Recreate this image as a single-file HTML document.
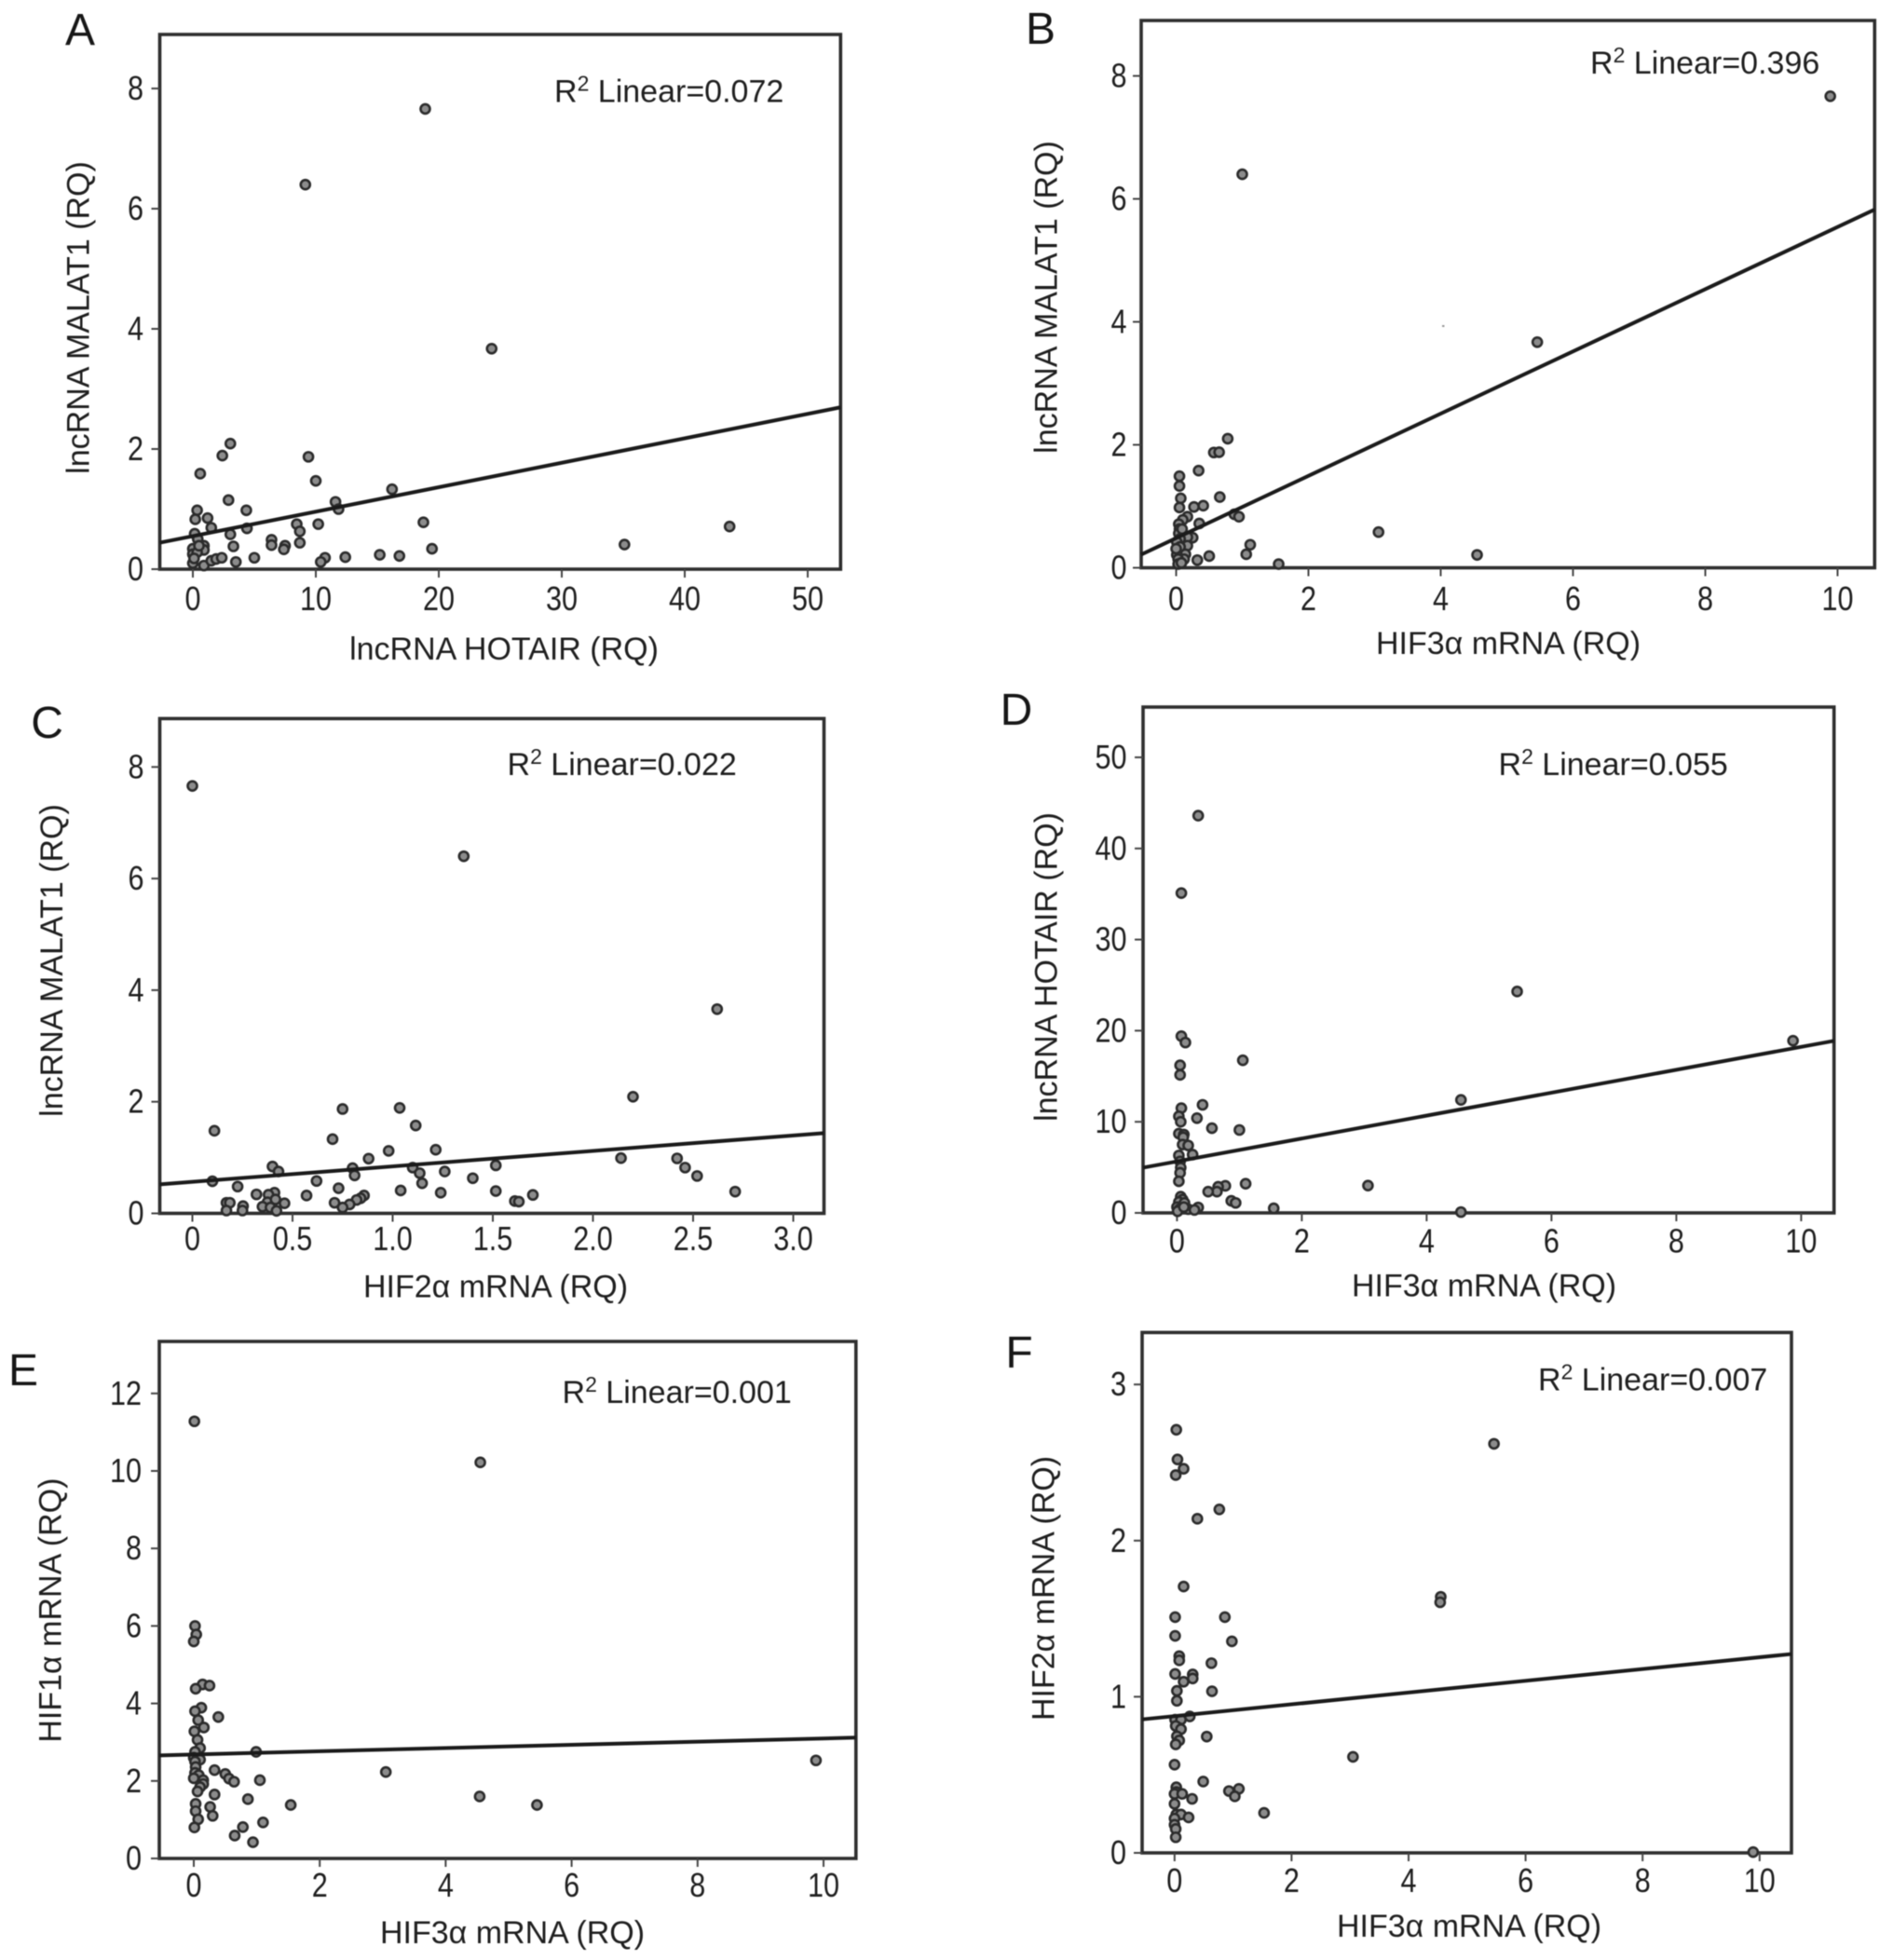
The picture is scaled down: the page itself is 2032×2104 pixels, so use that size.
<!DOCTYPE html>
<html lang="en">
<head>
<meta charset="utf-8">
<title>Correlation scatter plots A-F</title>
<style>
html,body{margin:0;padding:0;background:#fff;}
#figure{display:block;width:2032px;height:2104px;filter:blur(0.55px);}
text{font-family:"Liberation Sans",sans-serif;font-size:34px;fill:#1e1e1e;}
.letter{font-size:48px;fill:#161616;}
.frame{fill:none;stroke:#2e2e2e;stroke-width:3.6;}
</style>
</head>
<body>
<svg id="figure" xmlns="http://www.w3.org/2000/svg" width="2032" height="2104" viewBox="0 0 2032 2104">
  <rect x="0" y="0" width="2032" height="2104" fill="#fff"/>

  <g id="panel-a">
    <text class="letter" x="86" y="48" text-anchor="middle">A</text>
    <rect class="frame" x="171.5" y="37" width="730.8" height="574"/>
    <text x="595" y="109.5">R<tspan dy="-12" font-size="23">2</tspan><tspan dy="12"> Linear=0.072</tspan></text>
    <text x="541" y="708" text-anchor="middle">lncRNA HOTAIR (RQ)</text>
    <text transform="translate(95.5 341) rotate(-90)" text-anchor="middle">lncRNA MALAT1 (RQ)</text>
  </g>

  <g id="panel-b">
    <text class="letter" x="1117" y="47" text-anchor="middle">B</text>
    <rect class="frame" x="1225" y="22" width="787.3" height="587.5"/>
    <text x="1707" y="79">R<tspan dy="-12" font-size="23">2</tspan><tspan dy="12"> Linear=0.396</tspan></text>
    <text x="1619" y="702" text-anchor="middle">HIF3α mRNA (RQ)</text>
    <text transform="translate(1134.5 319) rotate(-90)" text-anchor="middle">lncRNA MALAT1 (RQ)</text>
    <rect x="1548" y="349" width="2.5" height="2" fill="#999"/>
  </g>

  <g id="panel-c">
    <text class="letter" x="50.6" y="792" text-anchor="middle">C</text>
    <rect class="frame" x="171.5" y="771.4" width="713" height="531.1"/>
    <text x="544.5" y="832">R<tspan dy="-12" font-size="23">2</tspan><tspan dy="12"> Linear=0.022</tspan></text>
    <text x="532" y="1392.5" text-anchor="middle">HIF2α mRNA (RQ)</text>
    <text transform="translate(67 1031) rotate(-90)" text-anchor="middle">lncRNA MALAT1 (RQ)</text>
  </g>

  <g id="panel-d">
    <text class="letter" x="1091" y="778" text-anchor="middle">D</text>
    <rect class="frame" x="1227" y="759" width="741.7" height="543"/>
    <text x="1608.5" y="832">R<tspan dy="-12" font-size="23">2</tspan><tspan dy="12"> Linear=0.055</tspan></text>
    <text x="1593" y="1391.5" text-anchor="middle">HIF3α mRNA (RQ)</text>
    <text transform="translate(1134.5 1038) rotate(-90)" text-anchor="middle">lncRNA HOTAIR (RQ)</text>
  </g>

  <g id="panel-e">
    <text class="letter" x="25" y="1487" text-anchor="middle">E</text>
    <rect class="frame" x="171" y="1440" width="747.8" height="555"/>
    <text x="603.5" y="1506">R<tspan dy="-12" font-size="23">2</tspan><tspan dy="12"> Linear=0.001</tspan></text>
    <text x="550" y="2086" text-anchor="middle">HIF3α mRNA (RQ)</text>
    <text transform="translate(65.5 1728.6) rotate(-90)" text-anchor="middle">HIF1α mRNA (RQ)</text>
  </g>

  <g id="panel-f">
    <text class="letter" x="1094" y="1468" text-anchor="middle">F</text>
    <rect class="frame" x="1226" y="1430.4" width="697" height="558.6"/>
    <text x="1651" y="1492.5">R<tspan dy="-12" font-size="23">2</tspan><tspan dy="12"> Linear=0.007</tspan></text>
    <text x="1577" y="2079" text-anchor="middle">HIF3α mRNA (RQ)</text>
    <text transform="translate(1131.5 1705) rotate(-90)" text-anchor="middle">HIF2α mRNA (RQ)</text>
  </g>
</svg>

<script>
// Panel A: lncRNA HOTAIR vs lncRNA MALAT1
const aXValues = [18.9,9.15,24.3,43.65,35.1,3.05,2.4,9.4,0.6,10.0,16.2,2.9,11.6,11.85,4.35,0.35,1.2,0.2,18.75,10.2,8.45,8.7,1.5,4.4,3.05,0.15,6.4,8.7,6.4,7.5,7.4,3.3,19.45,0.9,0.9,0.4,0.0,0.0,0.0,0.35,0.9,1.5,1.9,2.35,3.5,5.0,10.75,10.4,12.4,15.2,16.8,0.1,0.5];
const aYValues = [7.66,6.4,3.67,0.71,0.41,2.09,1.89,1.87,1.59,1.47,1.33,1.15,1.12,1.0,0.98,0.98,0.85,0.83,0.78,0.75,0.75,0.63,0.69,0.68,0.58,0.59,0.49,0.44,0.40,0.39,0.33,0.38,0.34,0.39,0.32,0.5,0.34,0.25,0.1,0.28,0.06,0.14,0.17,0.19,0.12,0.19,0.19,0.12,0.2,0.24,0.22,0.18,0.39];
const aFit = [0.55,0.0407];
const aXTicks = [0,10,20,30,40,50];
const aXTickLabels = ['0','10','20','30','40','50'];
const aYTicks = [0,2,4,6,8];
const aYTickLabels = ['0','2','4','6','8'];

// Panel B: HIF3a mRNA vs lncRNA MALAT1
const bXValues = [9.89,1.0,5.46,0.78,0.57,0.65,0.34,0.05,0.05,0.66,0.07,0.05,0.27,0.41,0.17,0.88,0.95,0.1,0.04,0.35,0.05,0.04,3.06,0.25,0.17,0.06,0.01,0.17,1.12,0.06,1.06,4.55,0.5,0.14,0.01,0.12,0.32,0.03,0.03,0.08,1.55,0.09,0];
const bYValues = [7.67,6.40,3.67,2.10,1.875,1.88,1.58,1.49,1.33,1.15,1.13,0.98,0.99,1.01,0.83,0.87,0.83,0.78,0.71,0.72,0.63,0.56,0.58,0.49,0.5,0.47,0.42,0.36,0.375,0.34,0.22,0.21,0.19,0.22,0.21,0.14,0.125,0.14,0.06,0.08,0.06,0.63,0.31];
const bFit = [0.483,0.506];
const bXTicks = [0,2,4,6,8,10];
const bXTickLabels = ['0','2','4','6','8','10'];
const bYTicks = [0,2,4,6,8];
const bYTickLabels = ['0','2','4','6','8'];

// Panel C: HIF2a mRNA vs lncRNA MALAT1
const cXValues = [0,1.355,2.62,2.2,1.035,0.75,0.11,1.115,0.70,0.98,1.215,2.14,2.42,2.46,2.52,2.71,0.88,1.515,0.40,0.43,0.80,1.10,1.135,0.81,1.26,1.40,0.10,0.62,1.147,0.226,0.73,1.04,1.24,1.515,0.32,0.41,0.38,0.57,1.70,0.857,0.84,0.82,1.61,1.63,0.375,0.415,0.46,0.71,0.785,0.17,0.187,0.253,0.35,0.75,0.39,0.17,0.25,0.42];
const cYValues = [7.66,6.40,3.66,2.09,1.89,1.87,1.48,1.575,1.33,1.12,1.14,0.99,0.985,0.82,0.67,0.39,0.98,0.86,0.84,0.75,0.81,0.82,0.72,0.68,0.75,0.63,0.575,0.58,0.54,0.48,0.45,0.41,0.37,0.40,0.34,0.37,0.335,0.32,0.33,0.32,0.27,0.24,0.22,0.21,0.2,0.25,0.18,0.19,0.16,0.19,0.19,0.13,0.12,0.105,0.105,0.05,0.05,0.045];
const cFit = [0.565,0.277];
const cXTicks = [0,0.5,1,1.5,2,2.5,3];
const cXTickLabels = ['0','0.5','1.0','1.5','2.0','2.5','3.0'];
const cYTicks = [0,2,4,6,8];
const cYTickLabels = ['0','2','4','6','8'];

// Panel D: HIF3a mRNA vs lncRNA HOTAIR
const dXValues = [0.34,0.07,5.45,9.87,0.07,0.135,1.055,0.05,0.05,4.55,0.41,0.07,0.03,0.32,0.06,0.56,1.0,0.03,0.11,0.1,0.09,0.18,0.25,0.03,0.05,0.06,0.05,0.03,1.1,3.06,0.775,0.66,0.64,0.5,0.06,0.09,0.87,0.94,0.03,0.12,0,1.55,0.34,0.18,0.04,0.28,4.55,0.01,0.11];
const dYValues = [43.6,35.1,24.3,18.9,19.4,18.7,16.75,16.2,15.15,12.4,11.86,11.5,10.6,10.4,10,9.3,9.1,8.7,8.6,8.3,7.5,7.4,6.4,6.3,5.65,4.97,4.4,3.47,3.2,3.0,2.97,2.87,2.33,2.33,1.78,1.46,1.32,1.1,1.19,1.1,0.64,0.5,0.6,0.41,0.4,0.32,0.09,0.18,0.64];
const dFit = [5.65,1.257];
const dXTicks = [0,2,4,6,8,10];
const dXTickLabels = ['0','2','4','6','8','10'];
const dYTicks = [0,10,20,30,40,50];
const dYTickLabels = ['0','10','20','30','40','50'];

// Panel E: HIF3a mRNA vs HIF1a mRNA
const eXValues = [0.01,4.55,0.02,0.04,0,0.14,0.25,0.03,0.12,0.02,0.39,0.07,0.16,0.01,0.06,0.1,0.99,0.02,0,0.1,9.88,0.02,0.03,0.33,0.02,3.05,0.5,0.08,0.56,0,1.05,0.64,0.15,0.15,0.1,0.06,0.33,4.54,0.86,1.54,5.45,0.03,0.26,0.03,0.3,0.07,1.1,0.01,0.78,0.65,0.94];
const eYValues = [11.28,10.22,6.0,5.78,5.6,4.49,4.46,4.38,3.89,3.8,3.65,3.57,3.38,3.28,3.06,2.85,2.75,2.75,2.6,2.55,2.53,2.5,2.36,2.28,2.21,2.23,2.18,2.15,2.06,2.07,2.02,1.98,2.02,1.92,1.84,1.73,1.65,1.6,1.53,1.38,1.38,1.41,1.33,1.22,1.1,1.01,0.93,0.8,0.81,0.59,0.42];
const eFit = [2.683,0.0414];
const eXTicks = [0,2,4,6,8,10];
const eXTickLabels = ['0','2','4','6','8','10'];
const eYTicks = [0,2,4,6,8,10,12];
const eYTickLabels = ['0','2','4','6','8','10','12'];

// Panel F: HIF3a mRNA vs HIF2a mRNA
const fXValues = [0.03,0.05,0.155,0.02,5.46,0.765,0.39,0.155,4.55,4.54,0.01,0.86,0.01,0.98,0.08,0.08,0.63,0.01,0.31,0.31,0.155,0.04,0.64,0.04,0.26,0.01,0.11,0.08,0.02,0.11,0.55,0.04,0.08,0.02,3.05,0,0.49,0.03,1.1,0.93,1.03,0.03,0,0.13,0.3,0,1.53,0.03,0.11,0.24,0,0,0.02,0.02,9.89];
const fYValues = [2.71,2.52,2.46,2.42,2.62,2.20,2.14,1.706,1.64,1.605,1.51,1.51,1.39,1.355,1.26,1.233,1.215,1.146,1.143,1.117,1.096,1.038,1.035,0.974,0.874,0.853,0.853,0.80,0.813,0.792,0.745,0.747,0.72,0.695,0.615,0.565,0.457,0.42,0.41,0.396,0.362,0.39,0.378,0.378,0.346,0.314,0.256,0.246,0.246,0.227,0.22,0.18,0.153,0.10,0.005];
const fFit = [0.876,0.0377];
const fXTicks = [0,2,4,6,8,10];
const fXTickLabels = ['0','2','4','6','8','10'];
const fYTicks = [0,1,2,3];
const fYTickLabels = ['0','1','2','3'];

const SVG_NS = 'http://www.w3.org/2000/svg';

function makeXScale(layout) {
  return function (v) { return layout.x0 + v * layout.xUnit; };
}
function makeYScale(layout) {
  return function (v) { return layout.bottom - v * layout.yUnit; };
}
function svgShape(tag, attrs) {
  const node = document.createElementNS(SVG_NS, tag);
  Object.keys(attrs).forEach(function (k) { node.setAttribute(k, attrs[k]); });
  return node;
}

function drawPanel(layout, xs, ys, fit, xTicks, xLabels, yTicks, yLabels) {
  const group = document.getElementById(layout.id);
  const sx = makeXScale(layout);
  const sy = makeYScale(layout);

  xTicks.forEach(function (t, i) {
    const tick = svgShape('line', {x1: sx(t), x2: sx(t), y1: layout.bottom, y2: layout.bottom + 9, stroke: '#444', 'stroke-width': 2});
    
    
    group.appendChild(tick);
    const label = svgShape('text', {transform: 'translate(' + sx(t) + ' ' + layout.xLabelY + ') scale(0.9 1.05)', 'text-anchor': 'middle'});
    
    
    label.textContent = xLabels[i];
    group.appendChild(label);
  });

  yTicks.forEach(function (t, i) {
    const tick = svgShape('line', {x1: layout.left - 9, x2: layout.left, y1: sy(t), y2: sy(t), stroke: '#444', 'stroke-width': 2});
    
    
    group.appendChild(tick);
    const label = svgShape('text', {transform: 'translate(' + layout.yLabelX + ' ' + (sy(t) + 12) + ') scale(0.9 1.05)', 'text-anchor': 'end'});
    
    
    label.textContent = yLabels[i];
    group.appendChild(label);
  });

  xs.forEach(function (x, i) {
    const point = svgShape('circle', {cx: sx(x), cy: sy(ys[i]), r: 5, fill: '#8c8c8c', stroke: '#2b2b2b', 'stroke-width': 2.6});
    
    
    group.appendChild(point);
  });

  const domainLeft = (layout.left - layout.x0) / layout.xUnit;
  const domainRight = (layout.right - layout.x0) / layout.xUnit;
  const trend = svgShape('line', {
    x1: layout.left, y1: sy(fit[0] + fit[1] * domainLeft),
    x2: layout.right, y2: sy(fit[0] + fit[1] * domainRight),
    stroke: '#1a1a1a', 'stroke-width': 4
  });
  
  
  group.appendChild(trend);
}

drawPanel({id: 'panel-a', left: 171.5, right: 902.3, bottom: 611, x0: 207, xUnit: 13.2, yUnit: 64.5, xLabelY: 655, yLabelX: 154}, aXValues, aYValues, aFit, aXTicks, aXTickLabels, aYTicks, aYTickLabels);
drawPanel({id: 'panel-b', left: 1225, right: 2012.3, bottom: 609.5, x0: 1262.5, xUnit: 71, yUnit: 66, xLabelY: 655, yLabelX: 1209.5}, bXValues, bYValues, bFit, bXTicks, bXTickLabels, bYTicks, bYTickLabels);
drawPanel({id: 'panel-c', left: 171.5, right: 884.5, bottom: 1302.5, x0: 206.5, xUnit: 215, yUnit: 59.9, xLabelY: 1342, yLabelX: 154.5}, cXValues, cYValues, cFit, cXTicks, cXTickLabels, cYTicks, cYTickLabels);
drawPanel({id: 'panel-d', left: 1227, right: 1968.7, bottom: 1302, x0: 1263.4, xUnit: 67, yUnit: 9.78, xLabelY: 1344.5, yLabelX: 1209.5}, dXValues, dYValues, dFit, dXTicks, dXTickLabels, dYTicks, dYTickLabels);
drawPanel({id: 'panel-e', left: 171, right: 918.8, bottom: 1995, x0: 208, xUnit: 67.6, yUnit: 41.6, xLabelY: 2036, yLabelX: 152}, eXValues, eYValues, eFit, eXTicks, eXTickLabels, eYTicks, eYTickLabels);
drawPanel({id: 'panel-f', left: 1226, right: 1923, bottom: 1989, x0: 1260.8, xUnit: 62.8, yUnit: 167.6, xLabelY: 2031, yLabelX: 1209}, fXValues, fYValues, fFit, fXTicks, fXTickLabels, fYTicks, fYTickLabels);
</script>
</body>
</html>
